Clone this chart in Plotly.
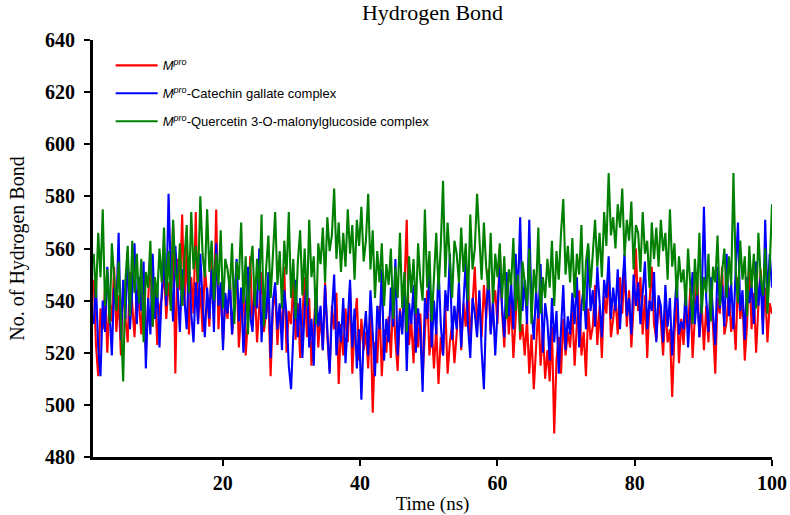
import numpy as np
import plotly.graph_objects as go

# ---------------- data ----------------
mpro = [
    548, 523, 511, 537, 529, 545, 520, 541, 532, 553,
    528, 542, 519, 547, 533, 524, 551, 537, 526, 544,
    539, 527, 548, 521, 543, 558, 530, 546, 523, 537,
    541, 552, 533, 547, 538, 570, 512, 556, 544, 573,
    538, 561, 527, 549, 535, 574, 531, 545, 528, 553,
    542, 530, 556, 536, 575, 529, 546, 524, 540, 533,
    549, 527, 538, 552, 522, 536, 544, 519, 533, 557,
    530, 546, 524, 539, 551, 528, 535, 542, 511, 537,
    544, 523, 538, 527, 553, 520, 536, 531, 547, 525,
    539, 518, 534, 549, 526, 541, 515, 532, 544, 522,
    535, 521, 547, 526, 513, 538, 529, 543, 508, 531,
    519, 537, 524, 545, 512, 530, 541, 517, 533, 521,
    528, 514, 535, 497, 524, 516, 538, 511, 529, 520,
    534, 518, 541, 525, 513, 537, 529, 546, 571, 523,
    532, 516, 540, 522, 535, 511, 528, 544, 519, 530,
    514, 530, 508, 526, 519, 538, 512, 524, 531, 516,
    527, 545, 521, 539, 530, 548, 524, 537, 553, 529,
    541, 526, 546, 533, 552, 528, 538, 544, 531, 560,
    536, 522, 545, 527, 540, 518, 533, 548, 525, 531,
    519, 533, 512, 527, 506, 524, 538, 515, 529, 510,
    521, 509, 530, 489, 517, 526, 512, 533, 519, 528,
    522, 536, 515, 531, 544, 519, 528, 511, 537, 525,
    530, 546, 523, 538, 518, 542, 535, 551, 526, 533,
    541, 527, 549, 535, 553, 530, 544, 522, 538, 560,
    536, 549, 527, 542, 518, 539, 553, 531, 525, 541,
    532, 519, 538, 524, 529, 503, 527, 541, 516, 533,
    523, 537, 529, 545, 518, 534, 551, 526, 539, 521,
    538, 524, 547, 530, 512, 541, 535, 553, 527, 532,
    545, 528, 536, 521, 549, 533, 540, 517, 531, 556,
    529, 543, 520, 538, 552, 531, 545, 524, 539, 535,
]

catechin = [
    531, 546, 522, 511, 540, 528, 553, 534, 519, 545,
    537, 566, 525, 548, 533, 559, 529, 544, 562, 531,
    549, 536, 555, 514, 541, 527, 558, 533, 546, 522,
    543, 557, 538, 581, 550, 532, 561, 545, 528, 552,
    541, 529, 556, 535, 524, 547, 531, 558, 539, 526,
    545, 533, 552, 528, 562, 538, 547, 521, 543, 535,
    549, 527, 541, 556, 532, 545, 520, 539, 553, 534,
    528, 546, 537, 560, 524, 542, 533, 551, 518, 540,
    547, 529, 539, 521, 544, 535, 515, 506, 531, 548,
    526, 541, 518, 537, 549, 522, 533, 515, 545, 530,
    538, 521, 546, 527, 512, 535, 550, 519, 532, 524,
    541, 516, 533, 548, 522, 537, 514, 529, 502, 526,
    536, 519, 544, 525, 511, 538, 529, 552, 517, 533,
    524, 545, 530, 556, 519, 536, 527, 548, 513, 539,
    531, 546, 520, 537, 528, 505, 541, 533, 552, 522,
    540, 527, 553, 531, 519, 544, 536, 558, 525, 538,
    529, 547, 522, 539, 555, 530, 518, 541, 535, 526,
    544, 521, 506, 536, 549, 527, 540, 519, 534, 553,
    538, 526, 551, 534, 547, 529, 558, 541, 572, 536,
    548, 531, 571, 537, 525, 544, 533, 554, 520, 539,
    532, 517, 541, 524, 536, 512, 529, 546, 521, 534,
    527, 543, 531, 549, 522, 538, 545, 529, 560, 536,
    544, 530, 553, 537, 526, 548, 541, 557, 533, 545,
    536, 552, 529, 545, 558, 534, 541, 527, 550, 538,
    547, 531, 543, 555, 529, 540, 536, 551, 524, 542,
    538, 524, 546, 530, 541, 519, 535, 549, 527, 532,
    529, 545, 522, 538, 551, 531, 543, 526, 540, 576,
    541, 528, 549, 535, 523, 553, 537, 546, 530, 558,
    534, 547, 529, 552, 570, 536, 544, 525, 549, 539,
    546, 531, 555, 538, 549, 527, 571, 540, 558, 545,
]

quercetin = [
    558, 541, 566, 549, 575, 538, 552, 531, 562, 547,
    536, 555, 529, 509, 548, 561, 534, 563, 543, 558,
    539, 556, 524, 551, 545, 563, 530, 549, 541, 560,
    547, 568, 542, 559, 536, 571, 551, 545, 562, 538,
    556, 569, 543, 574, 552, 561, 547, 580, 558, 549,
    575, 551, 563, 540, 558, 546, 567, 537, 556, 552,
    544, 562, 531, 555, 548, 570, 539, 557, 527, 553,
    561, 538, 556, 544, 573, 530, 552, 565, 541, 558,
    574, 546, 559, 537, 563, 550, 574, 541, 556, 533,
    555, 567, 542, 560, 538, 571, 549, 557, 531, 562,
    554, 568, 547, 572, 559, 565, 583, 556, 570, 551,
    566, 553, 575, 558, 569, 548, 571, 561, 576, 555,
    563, 581, 552, 567, 541, 559, 547, 562, 538, 554,
    546, 560, 533, 553, 541, 566, 537, 551, 528, 557,
    543, 556, 535, 562, 548, 540, 575, 545, 559, 532,
    552, 566, 544, 561, 586, 549, 570, 555, 541, 563,
    558, 547, 568, 551, 562, 540, 573, 552, 560, 581,
    563, 548, 570, 553, 544, 566, 539, 558, 549, 562,
    541, 557, 533, 552, 546, 564, 536, 550, 528, 555,
    547, 538, 560, 531, 552, 543, 568, 535, 549, 541,
    556, 545, 563, 538, 559, 548, 566, 579, 550, 561,
    547, 564, 541, 558, 550, 569, 536, 555, 562, 545,
    558, 571, 553, 566, 549, 574, 561, 589, 565, 572,
    560, 577, 568, 583, 557, 571, 563, 578, 552, 569,
    566, 551, 574, 558, 563, 545, 570, 556, 568, 553,
    571, 559, 566, 548, 575, 553, 562, 541, 557, 547,
    552, 538, 560, 544, 531, 556, 542, 566, 535, 549,
    543, 558, 532, 553, 547, 565, 538, 551, 560, 541,
    557, 546, 589, 552, 539, 563, 548, 557, 534, 561,
    545, 558, 537, 566, 549, 542, 560, 535, 553, 577,
]

t_start, t_end = 1.2, 100.0
time_ns = np.linspace(t_start, t_end, len(mpro))

names = [
    "<i>M</i><sup><i>pro</i></sup>",
    "<i>M</i><sup><i>pro</i></sup>-Catechin gallate complex",
    "<i>M</i><sup><i>pro</i></sup>-Quercetin 3-O-malonylglucoside complex",
]
series = [mpro, catechin, quercetin]
colors = ["#ff0000", "#0000ff", "#008000"]

y_ticks = [480, 500, 520, 540, 560, 580, 600, 620, 640]
x_ticks = [20, 40, 60, 80, 100]

fig = go.Figure()
for i, (nm, ys, c) in enumerate(zip(names, series, colors)):
    fig.add_trace(go.Scatter(
        x=time_ns, y=ys, mode="lines", name=nm,
        line=dict(color=c, width=2.1),
        legendgroup=f"g{i}",
    ))

serif = "Liberation Serif, Times New Roman, serif"
fig.update_layout(
    width=790, height=515, autosize=False,
    margin=dict(l=93, r=18, t=40, b=58, autoexpand=False),
    paper_bgcolor="white", plot_bgcolor="white",
    title=dict(text="Hydrogen Bond", x=0.5, xref="paper", y=0.977, yanchor="middle",
               font=dict(family=serif, size=22, color="black")),
    showlegend=True,
    legend=dict(x=0.026, y=0.975, xanchor="left", yanchor="top",
                bgcolor="rgba(0,0,0,0)", traceorder="grouped", tracegroupgap=8,
                itemwidth=42,
                font=dict(family="Liberation Sans, Arial, sans-serif", size=13, color="black")),
    xaxis=dict(range=[1.1, 100], tickvals=x_ticks, showgrid=False, zeroline=False,
               automargin=False,
               showline=True, linecolor="black", linewidth=3,
               ticks="outside", ticklen=6, tickwidth=2, tickcolor="black",
               tickfont=dict(family=serif, size=20, color="black", weight="bold"),
               title=dict(text="Time (ns)", font=dict(family=serif, size=19, color="black"), standoff=14)),
    yaxis=dict(range=[480, 640], tickvals=y_ticks, showgrid=False, zeroline=False,
               automargin=False,
               showline=True, linecolor="black", linewidth=3,
               ticks="outside", ticklen=6, tickwidth=2, tickcolor="black",
               ticklabelstandoff=5,
               tickfont=dict(family=serif, size=20, color="black", weight="bold"),
               title=dict(text="No. of Hydrogen Bond", font=dict(family=serif, size=20, color="black"), standoff=16)),
)

fig.write_html("out.html", config={"displayModeBar": False, "responsive": False},
               post_script="document.body.style.margin='0';document.body.style.overflow='hidden';")
